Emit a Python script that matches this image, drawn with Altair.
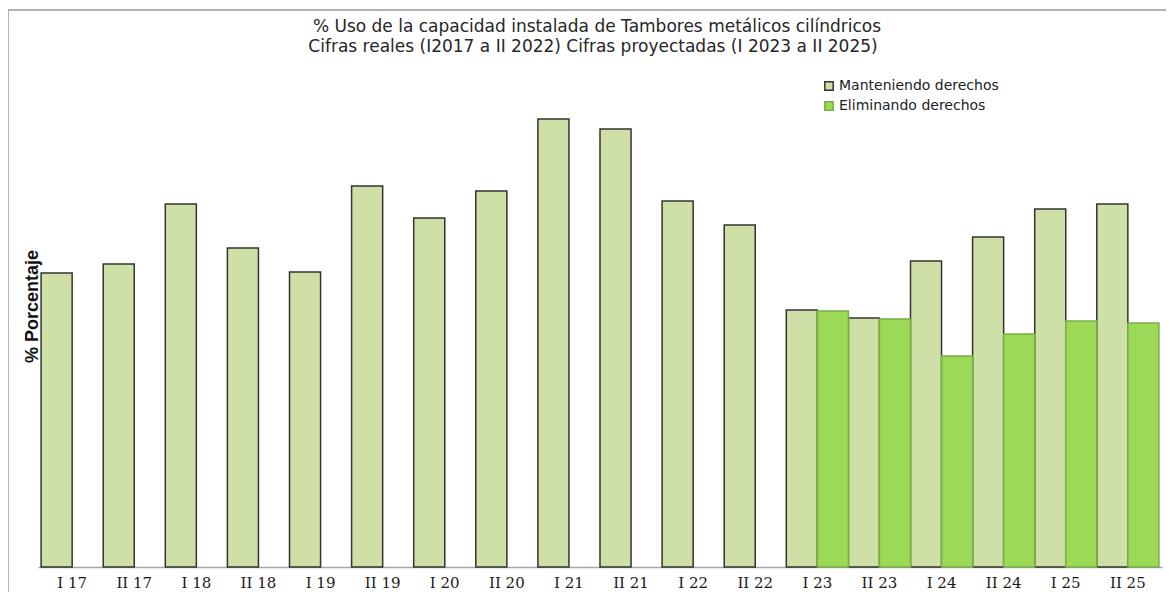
import altair as alt
import pandas as pd

periods = ["I 17", "II 17", "I 18", "II 18", "I 19", "II 19", "I 20", "II 20", "I 21",
           "II 21", "I 22", "II 22", "I 23", "II 23", "I 24", "II 24", "I 25", "II 25"]
manteniendo = [58.8, 60.6, 72.6, 63.8, 59.0, 76.2, 69.8, 75.2, 89.6,
               87.6, 73.2, 68.4, 51.4, 49.8, 61.2, 66.0, 71.6, 72.6]
elim_periods = ["I 23", "II 23", "I 24", "II 24", "I 25", "II 25"]
eliminando = [51.2, 49.6, 42.2, 46.6, 49.2, 48.8]
series = ["Manteniendo derechos", "Eliminando derechos"]
title_lines = ["% Uso de la capacidad instalada de Tambores metálicos cilíndricos",
               "Cifras reales (I2017 a II 2022) Cifras proyectadas (I 2023 a II 2025)"]

rows = [{"periodo": p, "serie": series[0], "valor": v} for p, v in zip(periods, manteniendo)]
rows += [{"periodo": p, "serie": series[1], "valor": v} for p, v in zip(elim_periods, eliminando)]
df = pd.DataFrame(rows)

legend = alt.Legend(
    title=None, orient="none", legendX=784, legendY=12,
    symbolType="square", symbolSize=70, symbolStrokeWidth=1.5,
    labelFont="DejaVu Sans", labelFontSize=14, labelColor="#222222",
    rowPadding=4, labelOffset=3,
)

bars = alt.Chart(df).mark_bar(strokeWidth=1.5).encode(
    x=alt.X("periodo:N", sort=periods,
            scale=alt.Scale(paddingInner=0, paddingOuter=0.05),
            axis=alt.Axis(title=None, labelAngle=0, ticks=False, domainColor="#a6a6a6",
                          domainWidth=1.5, labelFont="DejaVu Serif", labelFontSize=15,
                          labelColor="#1a1a1a", labelBaseline="alphabetic",
                          labelPadding=20)),
    xOffset=alt.XOffset("serie:N", sort=series,
                        scale=alt.Scale(domain=series, paddingInner=0, paddingOuter=0)),
    y=alt.Y("valor:Q", scale=alt.Scale(domain=[0, 100]),
            axis=alt.Axis(title="% Porcentaje", labels=False, ticks=False, domain=False,
                          grid=False, titleFont="Liberation Sans", titleFontSize=18,
                          titleFontWeight="bold", titleColor="#111111",
                          titleX=-1, titleY=239, titleAngle=270, titleAlign="center",
                          titleBaseline="alphabetic")),
    fill=alt.Fill("serie:N", sort=series,
                  scale=alt.Scale(domain=series, range=["#cfe0a7", "#9bd957"]),
                  legend=legend),
    stroke=alt.Stroke("serie:N", sort=series,
                      scale=alt.Scale(domain=series, range=["#333333", "#7aae46"]),
                      legend=legend),
)

frame = alt.Chart(pd.DataFrame({"f": [0]})).mark_rect(
    filled=False, fillOpacity=0, stroke="#9a9a9a", strokeWidth=1.5
).encode(
    x=alt.value(-30), x2=alt.value(1200), y=alt.value(-57), y2=alt.value(600)
)

title1 = alt.Chart(pd.DataFrame({"t": [title_lines[0]]})).mark_text(
    font="DejaVu Sans", fontSize=17, color="#262626", align="center", baseline="alphabetic"
).encode(text="t:N", x=alt.value(559), y=alt.value(-35))

title2 = alt.Chart(pd.DataFrame({"t": [title_lines[1]]})).mark_text(
    font="DejaVu Sans", fontSize=17, color="#262626", align="center", baseline="alphabetic"
).encode(text="t:N", x=alt.value(555), y=alt.value(-15))

chart = alt.layer(frame, bars, title1, title2).properties(
    width=1124, height=500,
    autosize=alt.AutoSizeParams(type="none"),
    padding={"left": 30, "top": 59, "right": 4, "bottom": 25},
).configure_view(stroke=None)

chart.save("out.html", embed_options={"renderer": "svg", "actions": False})
